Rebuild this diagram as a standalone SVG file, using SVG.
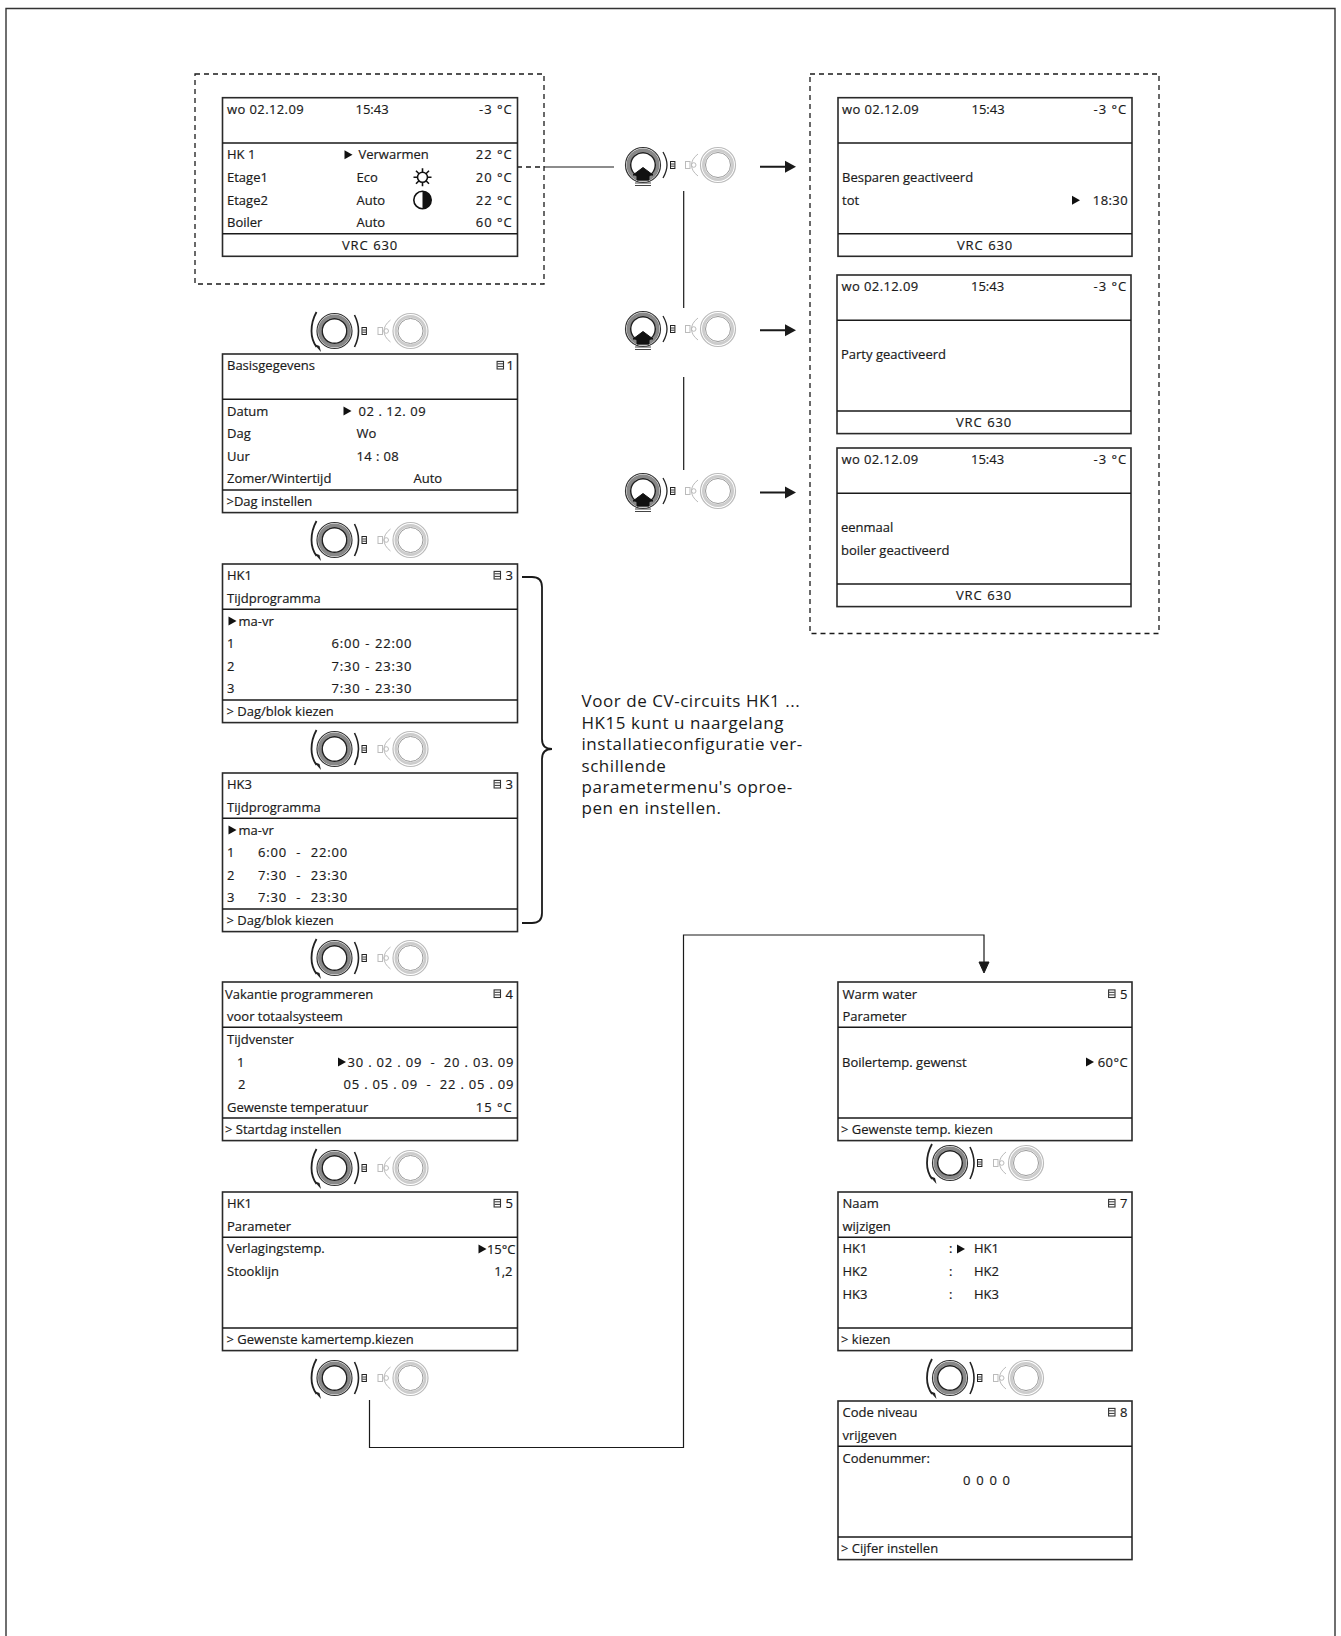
<svg xmlns="http://www.w3.org/2000/svg" xmlns:xlink="http://www.w3.org/1999/xlink" width="1341" height="1636" viewBox="0 0 1341 1636">
<style>
text{font-family:"Open Sans","Noto Sans",sans-serif;font-size:13px;fill:#1a1a1a;stroke:#1a1a1a;stroke-width:.18}
.e{text-anchor:end}.m{text-anchor:middle}
.n{letter-spacing:.85px;word-spacing:.4px}
.s{letter-spacing:.4px}
.b{fill:#fff;stroke:#2a2a2a;stroke-width:1.6}
.l{fill:none;stroke:#1a1a1a;stroke-width:1.2}
.d{fill:none;stroke:#1a1a1a;stroke-width:1.3;stroke-dasharray:5 4}
.t{fill:none;stroke:#1a1a1a;stroke-width:1.6}
.big{font-size:17px;stroke-width:0;letter-spacing:.55px}
</style>
<defs>
<polygon id="tri" points="0,-4.5 8,0 0,4.5" fill="#111"/>
<g id="menu"><rect x="0.6" y="-3.6" width="6.4" height="7.6" fill="none" stroke="#333" stroke-width="1.1"/><path d="M1,-1.2H6.6M1,1.4H6.6" stroke="#333" stroke-width="1"/></g>
<g id="mini"><rect x="27.5" y="-3.5" width="4.4" height="7" fill="none" stroke="#222" stroke-width="1"/><path d="M28,-1H31.5M28,1.2H31.5" stroke="#222" stroke-width=".9"/></g>
<g id="grey" fill="none" stroke="#bbb">
<rect x="43.5" y="-3.5" width="4.5" height="7" stroke-width="1"/><circle cx="51.7" cy="0" r="2.3" stroke-width="1"/>
<path d="M56,-11Q49.5,-6 49.5,0Q49.5,6 56,11" stroke-width="1"/>
<circle cx="76" cy="0" r="17.5" stroke-width="1.2"/><circle cx="76" cy="0" r="14.6" stroke="#ccc" stroke-width="2.8"/><circle cx="76" cy="0" r="12.5" stroke="#999" stroke-width="1"/>
</g>
<g id="ring" fill="none">
<circle r="17.5" stroke="#333" stroke-width="1.2" fill="#fff"/><circle r="14.7" stroke="#888" stroke-width="3.6"/><circle r="12.3" stroke="#222" stroke-width="1.5" fill="#fff"/>
</g>
<g id="turn">
<use xlink:href="#ring"/>
<path d="M-18,-19Q-23,-10 -23,0Q-23,9 -18,16" fill="none" stroke="#222" stroke-width="1.8"/>
<polygon points="-20.5,13 -15,15 -13.5,21" fill="#222"/>
<path d="M20,-16Q24,-8 24,0Q24,8 20,16" fill="none" stroke="#222" stroke-width="1.6"/>
<use xlink:href="#mini"/><use xlink:href="#grey"/>
</g>
<g id="press">
<use xlink:href="#ring"/>
<path d="M-10,10L0,2.5L10,10H6V15H-6V10Z" fill="#111" stroke="#111"/><path d="M-8,18H8M-8,20.5H8" stroke="#444" stroke-width="1"/>
<path d="M20,-13Q24,-6 24,0Q24,6 20,13" fill="none" stroke="#222" stroke-width="1.3"/>
<use xlink:href="#mini"/><use xlink:href="#grey" x="-1"/>
</g>
<polygon id="ah" points="0,-6 11,0 0,6" fill="#1a1a1a"/>
<g id="frame">
<rect class="b" width="295" height="158.6"/><path class="t" d="M0,45.3H295M0,136H295"/>
</g>
<g id="frame2">
<rect class="b" width="294" height="158.6"/><path class="t" d="M0,45.3H294M0,136H294"/>
</g>
</defs>
<rect width="1341" height="1636" fill="#fff"/>
<path id="page-frame" d="M6,1636V8.5H1335V1636" fill="none" stroke="#333" stroke-width="1.4"/>
<g id="connectors">
<rect class="d" x="195" y="74" width="349" height="210"/>
<rect class="d" x="810" y="74" width="349" height="559.5"/>
<path class="d" d="M517,167H544"/><path class="l" d="M544,167H614"/>
<path class="l" d="M683.7,191V308M683.7,377V470"/>
<path class="l" style="stroke-width:2" d="M760,166.7H786M760,330.3H786M760,492.6H786"/>
<use xlink:href="#ah" x="785" y="166.7"/><use xlink:href="#ah" x="785" y="330.3"/><use xlink:href="#ah" x="785" y="492.6"/>
<path class="l" d="M369.5,1400V1447.5H683.5V935H984V964"/>
<path d="M984,973L979,962H989Z" fill="#1a1a1a" stroke="#1a1a1a"/>
<path class="l" style="stroke-width:1.8" d="M522,577H532Q542,577 542,587V739Q542,749 552,749Q542,749 542,759V913Q542,923 532,923H522"/>
</g>
<g id="knobs">
<use xlink:href="#turn" x="334.5" y="331"/><use xlink:href="#turn" x="334.5" y="540"/><use xlink:href="#turn" x="334.5" y="749"/><use xlink:href="#turn" x="334.5" y="958"/><use xlink:href="#turn" x="334.5" y="1168"/><use xlink:href="#turn" x="334.5" y="1378"/>
<use xlink:href="#turn" x="950" y="1163"/><use xlink:href="#turn" x="950" y="1378"/>
<use xlink:href="#press" x="643" y="165"/><use xlink:href="#press" x="643" y="329"/><use xlink:href="#press" x="643" y="491"/>
</g>
<g id="box-home" transform="translate(222.5,97.7)"><use xlink:href="#frame"/>
<text class="s" x="4.5" y="16">wo 02.12.09</text><text x="133" y="16">15:43</text><text class="e n" x="290" y="16">-3 °C</text>
<text x="4.5" y="61.7">HK 1</text><use xlink:href="#tri" x="122" y="57"/><text x="136" y="61.7">Verwarmen</text><text class="e n" x="290" y="61.7">22 °C</text>
<text x="4.5" y="84.4">Etage1</text><text x="134" y="84.4">Eco</text><text class="e n" x="290" y="84.4">20 °C</text>
<text x="4.5" y="107.4">Etage2</text><text x="134" y="107.4">Auto</text><text class="e n" x="290" y="107.4">22 °C</text>
<text x="4.5" y="129.4">Boiler</text><text x="134" y="129.4">Auto</text><text class="e n" x="290" y="129.4">60 °C</text>
<text class="m n" x="147.5" y="152.2">VRC 630</text>
<g transform="translate(200,79.6)" fill="none" stroke="#111" stroke-width="1.6"><circle r="5"/><path d="M-9,0H-5M5,0H9M0,-9V-5M0,5V9M-6.5,-6.5L-3.5,-3.5M3.5,3.5L6.5,6.5M-6.5,6.5L-3.5,3.5M3.5,-3.5L6.5,-6.5"/></g>
<g transform="translate(200,102.3)"><circle r="8.7" fill="#fff" stroke="#111" stroke-width="1.6"/><path d="M0,-8.7A8.7,8.7 0 0 1 0,8.7Z" fill="#111"/></g>
</g>
<g id="box-bewaren" transform="translate(838,97.7)"><use xlink:href="#frame2"/>
<text class="s" x="4" y="16">wo 02.12.09</text><text x="133.5" y="16">15:43</text><text class="e n" x="289" y="16">-3 °C</text>
<text x="4" y="84.4">Besparen geactiveerd</text><text x="4" y="107.4">tot</text><use xlink:href="#tri" x="234" y="102.5"/><text class="e s" x="290" y="107.4">18:30</text>
<text class="m n" x="147" y="152.2">VRC 630</text></g>
<g id="box-party" transform="translate(837,275)"><use xlink:href="#frame2"/>
<text class="s" x="4.5" y="16">wo 02.12.09</text><text x="134" y="16">15:43</text><text class="e n" x="290" y="16">-3 °C</text>
<text x="4" y="84.4">Party geactiveerd</text>
<text class="m n" x="147" y="152.2">VRC 630</text></g>
<g id="box-boiler" transform="translate(837,448)"><use xlink:href="#frame2"/>
<text class="s" x="4.5" y="16">wo 02.12.09</text><text x="134" y="16">15:43</text><text class="e n" x="290" y="16">-3 °C</text>
<text x="4" y="84.4">eenmaal</text><text x="4" y="107.4">boiler geactiveerd</text>
<text class="m n" x="147" y="152.2">VRC 630</text></g>
<g id="box-basis" transform="translate(222.5,354)"><use xlink:href="#frame"/>
<text x="4.5" y="16">Basisgegevens</text><use xlink:href="#menu" x="274" y="11"/><text x="284" y="16">1</text>
<text x="4.5" y="61.7">Datum</text><use xlink:href="#tri" x="121" y="57"/><text class="s" x="136" y="61.7" style="letter-spacing:.55px">02 . 12. 09</text>
<text x="4.5" y="84.4">Dag</text><text x="134" y="84.4">Wo</text>
<text x="4.5" y="107.4">Uur</text><text class="s" x="134" y="107.4">14 : 08</text>
<text x="4.5" y="129.4">Zomer/Wintertijd</text><text x="191" y="129.4">Auto</text>
<text x="4" y="152.2">&gt;Dag instellen</text></g>
<g id="box-hk1-tijd" transform="translate(222.5,564)"><use xlink:href="#frame"/>
<text x="4.5" y="16">HK1</text><use xlink:href="#menu" x="271" y="11"/><text x="283" y="16">3</text>
<text x="4.5" y="38.8">Tijdprogramma</text>
<use xlink:href="#tri" x="6" y="57"/><text x="16" y="61.7">ma-vr</text>
<text x="4.5" y="84.4">1</text><text class="n" x="109" y="84.4">6:00 - 22:00</text>
<text x="4.5" y="107.4">2</text><text class="n" x="109" y="107.4">7:30 - 23:30</text>
<text x="4.5" y="129.4">3</text><text class="n" x="109" y="129.4">7:30 - 23:30</text>
<text x="4" y="152.2">&gt; Dag/blok kiezen</text></g>
<g id="box-hk3-tijd" transform="translate(222.5,773)"><use xlink:href="#frame"/>
<text x="4.5" y="16">HK3</text><use xlink:href="#menu" x="271" y="11"/><text x="283" y="16">3</text>
<text x="4.5" y="38.8">Tijdprogramma</text>
<use xlink:href="#tri" x="6" y="57"/><text x="16" y="61.7">ma-vr</text>
<text x="4.5" y="84.4">1</text><text class="n" x="35.5" y="84.4" xml:space="preserve">6:00  -  22:00</text>
<text x="4.5" y="107.4">2</text><text class="n" x="35.5" y="107.4" xml:space="preserve">7:30  -  23:30</text>
<text x="4.5" y="129.4">3</text><text class="n" x="35.5" y="129.4" xml:space="preserve">7:30  -  23:30</text>
<text x="4" y="152.2">&gt; Dag/blok kiezen</text></g>
<g id="box-vakantie" transform="translate(222.5,982)"><use xlink:href="#frame"/>
<text x="2.5" y="16.8">Vakantie programmeren</text><use xlink:href="#menu" x="271" y="11.5"/><text x="283" y="16.8">4</text>
<text x="4.5" y="39.2">voor totaalsysteem</text>
<text x="4.5" y="61.7">Tijdvenster</text>
<text x="14.5" y="85">1</text><use xlink:href="#tri" x="115.5" y="80"/><text x="125" y="85" textLength="166" xml:space="preserve">30 . 02 . 09  -  20 . 03. 09</text>
<text x="15.5" y="107.4">2</text><text x="121" y="107.4" textLength="170" xml:space="preserve">05 . 05 . 09  -  22 . 05 . 09</text>
<text x="4.5" y="130">Gewenste temperatuur</text><text class="e n" x="290" y="130">15 °C</text>
<text x="2.5" y="152.2">&gt; Startdag instellen</text></g>
<g id="box-hk1-param" transform="translate(222.5,1192)"><use xlink:href="#frame"/>
<text x="4.5" y="16">HK1</text><use xlink:href="#menu" x="271" y="11"/><text x="283" y="16">5</text>
<text x="4.5" y="38.8">Parameter</text>
<text x="4.5" y="61.2">Verlagingstemp.</text><use xlink:href="#tri" x="256" y="57"/><text class="e" x="293" y="61.7">15°C</text>
<text x="4.5" y="84.4">Stooklijn</text><text class="e" x="290" y="84.4">1,2</text>
<text x="4" y="152.2">&gt; Gewenste kamertemp.kiezen</text></g>
<g id="box-warm" transform="translate(838,982)"><use xlink:href="#frame2"/>
<text x="4.5" y="16.8">Warm water</text><use xlink:href="#menu" x="270" y="11.5"/><text x="282" y="16.8">5</text>
<text x="4.5" y="39.2">Parameter</text>
<text x="4" y="85">Boilertemp. gewenst</text><use xlink:href="#tri" x="248" y="80"/><text class="e s" x="290" y="85">60°C</text>
<text x="3" y="152.2">&gt; Gewenste temp. kiezen</text></g>
<g id="box-naam" transform="translate(838,1192)"><use xlink:href="#frame2"/>
<text x="4.5" y="16">Naam</text><use xlink:href="#menu" x="270" y="11"/><text x="282" y="16">7</text>
<text x="4.5" y="38.8">wijzigen</text>
<text x="4.5" y="61.2">HK1</text><text x="111" y="61.2">:</text><use xlink:href="#tri" x="119" y="57"/><text x="136" y="61.2">HK1</text>
<text x="4.5" y="84.4">HK2</text><text x="111" y="84.4">:</text><text x="136" y="84.4">HK2</text>
<text x="4.5" y="107.4">HK3</text><text x="111" y="107.4">:</text><text x="136" y="107.4">HK3</text>
<text x="3" y="152.2">&gt; kiezen</text></g>
<g id="box-code" transform="translate(838,1401)"><use xlink:href="#frame2"/>
<text x="4.5" y="16">Code niveau</text><use xlink:href="#menu" x="270" y="11"/><text x="282" y="16">8</text>
<text x="4.5" y="38.8">vrijgeven</text>
<text x="4.5" y="61.7">Codenummer:</text>
<text x="125" y="84.4" textLength="47" xml:space="preserve">0  0  0  0</text>
<text x="3" y="152.2">&gt; Cijfer instellen</text></g>
<g id="note">
<text class="big" x="581.5" y="707">Voor de CV-circuits HK1 ...</text>
<text class="big" x="581.5" y="729">HK15 kunt u naargelang</text>
<text class="big" x="581.5" y="750">installatieconfiguratie ver-</text>
<text class="big" x="581.5" y="772">schillende</text>
<text class="big" x="581.5" y="793">parametermenu's oproe-</text>
<text class="big" x="581.5" y="814">pen en instellen.</text>
</g>
</svg>
